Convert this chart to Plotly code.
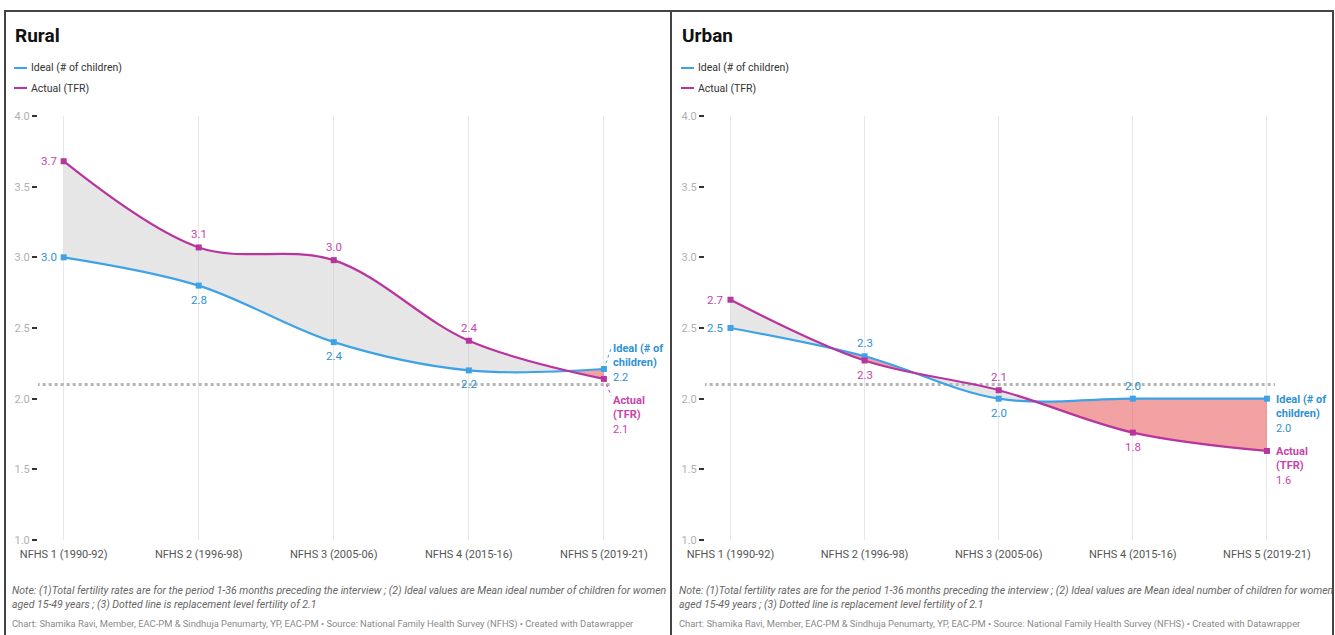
import plotly.graph_objects as go

# ---- data -------------------------------------------------------------
categories = ["NFHS 1 (1990-92)", "NFHS 2 (1996-98)", "NFHS 3 (2005-06)",
              "NFHS 4 (2015-16)", "NFHS 5 (2019-21)"]
rural_ideal = [3.0, 2.8, 2.4, 2.2, 2.21]
rural_actual = [3.68, 3.07, 2.98, 2.41, 2.14]
urban_ideal = [2.5, 2.3, 2.0, 2.0, 2.0]
urban_actual = [2.7, 2.27, 2.06, 1.76, 1.63]
replacement_level = 2.1
y_ticks = [1.0, 1.5, 2.0, 2.5, 3.0, 3.5, 4.0]

# ---- styling ----------------------------------------------------------
W, H = 1335, 635
FONT = "Roboto, sans-serif"
BLUE = "#3ea3e6"
BLUE_TXT = "#2e92d4"
MAGENTA = "#b8349f"
MAG_TXT = "#c545aa"
GREY_FILL = "rgba(190,190,190,0.38)"
RED_FILL = "rgba(230,85,85,0.55)"


def px(x):
    return x / W


def py(y):
    return 1 - y / H


xs = list(range(len(categories)))

fig = go.Figure()


def gap_colorscale(ideal, actual):
    """Grey where actual > ideal, red where ideal > actual (sharp stops)."""
    n = len(ideal) - 1
    diff = [a - i for a, i in zip(actual, ideal)]
    col = lambda d: GREY_FILL if d >= 0 else RED_FILL
    stops = [[0.0, col(diff[0])]]
    for k in range(n):
        d0, d1 = diff[k], diff[k + 1]
        if (d0 >= 0) != (d1 >= 0):
            t = d0 / (d0 - d1)
            pos = (k + t) / n
            stops.append([pos, col(d0)])
            stops.append([pos, col(d1)])
    stops.append([1.0, col(diff[-1])])
    return stops


def add_panel(ideal, actual, xa, ya):
    # band between the two curves
    fig.add_trace(go.Scatter(x=xs, y=ideal, mode="lines", xaxis=xa, yaxis=ya,
                             line=dict(width=0, shape="spline"),
                             hoverinfo="skip", showlegend=False))
    fig.add_trace(go.Scatter(x=xs, y=actual, mode="lines", xaxis=xa, yaxis=ya,
                             line=dict(width=0, shape="spline"),
                             fill="tonexty",
                             fillgradient=dict(type="horizontal",
                                               start=xs[0], stop=xs[-1],
                                               colorscale=gap_colorscale(ideal, actual)),
                             hoverinfo="skip", showlegend=False))
    # replacement level
    fig.add_trace(go.Scatter(x=[-0.2, 4.07], y=[replacement_level] * 2,
                             mode="lines", xaxis=xa, yaxis=ya,
                             line=dict(color="#b5b5b5", width=3, dash="dot"),
                             hoverinfo="skip", showlegend=False))
    # the two series
    for vals, color in ((ideal, BLUE), (actual, MAGENTA)):
        fig.add_trace(go.Scatter(x=xs, y=vals, mode="lines+markers",
                                 xaxis=xa, yaxis=ya,
                                 line=dict(color=color, width=2.2, shape="spline"),
                                 marker=dict(symbol="square", size=6, color=color),
                                 showlegend=False))


add_panel(rural_ideal, rural_actual, "x", "y")
add_panel(urban_ideal, urban_actual, "x2", "y2")

axis_x = dict(range=[-0.19, 4.06], tickvals=xs, ticktext=categories,
              showgrid=True, gridcolor="#e8e8e8", gridwidth=1,
              zeroline=False, showline=False, ticks="", automargin=False,
              ticklabelstandoff=6,
              tickfont=dict(family=FONT, size=11, color="#555555"))
axis_y = dict(range=[1.0, 4.0], tickvals=y_ticks,
              ticktext=[f"{v:.1f}" for v in y_ticks],
              showgrid=False, zeroline=False, showline=False, automargin=False,
              ticks="outside", ticklen=5, tickwidth=1.5, tickcolor="#333333",
              tickfont=dict(family=FONT, size=11, color="#b0b0b0"))

fig.update_layout(
    width=W, height=H,
    margin=dict(l=0, r=0, t=0, b=0, pad=0, autoexpand=False),
    paper_bgcolor="white", plot_bgcolor="white",
    showlegend=False,
    xaxis=dict(axis_x, domain=[px(38), px(612)], anchor="y"),
    yaxis=dict(axis_y, domain=[py(540), py(116)], anchor="x"),
    xaxis2=dict(axis_x, domain=[px(705), px(1275)], anchor="y2"),
    yaxis2=dict(axis_y, domain=[py(540), py(116)], anchor="x2"),
)

ann = []
shapes = []


def label(xa, ya, x, y, text, color, xs_=0, ys_=0, xanchor="center", yanchor="middle",
          size=11.5, align="center"):
    ann.append(dict(xref=xa, yref=ya, x=x, y=y, text=text, showarrow=False,
                    xanchor=xanchor, yanchor=yanchor, xshift=xs_, yshift=ys_,
                    align=align, font=dict(family=FONT, size=size, color=color)))


# point labels: 'L' left, 'A' above, 'B' below, None for end label
rural_ideal_pos = ["L", "B", "B", "B", None]
rural_actual_pos = ["L", "A", "A", "A", None]
urban_ideal_pos = ["L", "A", "B", "A", None]
urban_actual_pos = ["L", "B", "A", "B", None]


def point_labels(xa, ya, vals, pos, color):
    for i, (v, p) in enumerate(zip(vals, pos)):
        t = f"{v:.1f}"
        if p == "L":
            label(xa, ya, i, v, t, color, xs_=-5, xanchor="right")
        elif p == "A":
            label(xa, ya, i, v, t, color, ys_=13)
        elif p == "B":
            label(xa, ya, i, v, t, color, ys_=-14)


point_labels("x", "y", rural_ideal, rural_ideal_pos, BLUE_TXT)
point_labels("x", "y", rural_actual, rural_actual_pos, MAG_TXT)
point_labels("x2", "y2", urban_ideal, urban_ideal_pos, BLUE_TXT)
point_labels("x2", "y2", urban_actual, urban_actual_pos, MAG_TXT)


def end_labels(xa, ya, ideal, actual, shift_ideal, shift_actual, leader):
    last = len(ideal) - 1
    label(xa, ya, last, ideal[-1],
          f"<b>Ideal (# of<br>children)</b><br>{ideal[-1]:.1f}", BLUE_TXT,
          xs_=7, ys_=shift_ideal, xanchor="left", yanchor="top", align="left", size=11)
    label(xa, ya, last, actual[-1],
          f"<b>Actual<br>(TFR)</b><br>{actual[-1]:.1f}", MAG_TXT,
          xs_=7, ys_=shift_actual, xanchor="left", yanchor="top", align="left", size=11)
    if leader:
        for v, dy, c in ((ideal[-1], 0.15, BLUE), (actual[-1], -0.12, MAGENTA)):
            shapes.append(dict(type="line", xref=xa, yref=ya, x0=last, y0=v,
                               x1=last + 0.055, y1=v + dy,
                               line=dict(color=c, width=1, dash="dot")))


end_labels("x", "y", rural_ideal, rural_actual, 29, -13, True)
end_labels("x2", "y2", urban_ideal, urban_actual, 8, 8, False)

# panel frames
frame = dict(color="#444444", width=2)
shapes += [
    dict(type="line", xref="paper", yref="paper", x0=px(5), x1=px(5), y0=0, y1=py(11), line=frame),
    dict(type="line", xref="paper", yref="paper", x0=px(671), x1=px(671), y0=0, y1=py(11), line=frame),
    dict(type="line", xref="paper", yref="paper", x0=px(1333), x1=px(1333), y0=0, y1=py(11), line=frame),
    dict(type="line", xref="paper", yref="paper", x0=px(4), x1=px(1334), y0=py(11), y1=py(11), line=frame),
]

notes = ("Note: (1)Total fertility rates are for the period 1-36 months preceding the interview ; "
         "(2) Ideal values are Mean ideal number of children for women<br>"
         "aged 15-49 years ; (3) Dotted line is replacement level fertility of 2.1")
credit = ("Chart: Shamika Ravi, Member, EAC-PM &amp; Sindhuja Penumarty, YP, EAC-PM • "
          "Source: National Family Health Survey (NFHS) • Created with Datawrapper")

for x0, title in ((13, "Rural"), (680, "Urban")):
    ann.append(dict(xref="paper", yref="paper", x=px(x0), y=py(36), text=f"<b>{title}</b>",
                    showarrow=False, xanchor="left", yanchor="middle",
                    font=dict(family=FONT, size=19, color="#111111")))
    for i, (name, c) in enumerate((("Ideal (# of children)", BLUE), ("Actual (TFR)", MAGENTA))):
        yy = 68 + 20 * i
        shapes.append(dict(type="line", xref="paper", yref="paper",
                           x0=px(x0 + 1), x1=px(x0 + 14), y0=py(yy), y1=py(yy),
                           line=dict(color=c, width=2)))
        ann.append(dict(xref="paper", yref="paper", x=px(x0 + 16), y=py(yy), text=name,
                        showarrow=False, xanchor="left", yanchor="middle",
                        font=dict(family=FONT, size=10.5, color="#333333")))
    ann.append(dict(xref="paper", yref="paper", x=px(x0 - 3), y=py(582), text=f"<i>{notes}</i>",
                    showarrow=False, xanchor="left", yanchor="top", align="left",
                    font=dict(family=FONT, size=10.5, color="#666666")))
    ann.append(dict(xref="paper", yref="paper", x=px(x0 - 3), y=py(624), text=credit,
                    showarrow=False, xanchor="left", yanchor="middle", align="left",
                    font=dict(family=FONT, size=9.4, color="#8a8a8a")))

fig.update_layout(annotations=ann, shapes=shapes)
fig.write_html("out.html")
